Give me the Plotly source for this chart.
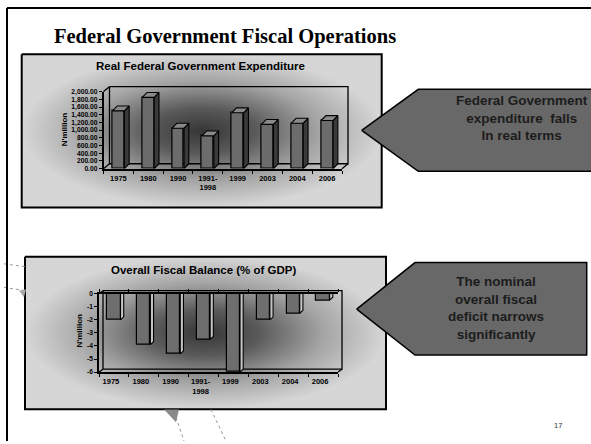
import plotly.graph_objects as go

# ---------------- data ----------------
categories = ["1975", "1980", "1990", "1991-1998", "1999", "2003", "2004", "2006"]
category_labels = ["1975", "1980", "1990", "1991-<br>1998", "1999", "2003", "2004", "2006"]

real_expenditure = [1500, 1850, 1050, 850, 1450, 1150, 1180, 1250]   # N'million
fiscal_balance = [-2.0, -3.9, -4.6, -3.5, -6.0, -2.0, -1.5, -0.5]     # % of GDP

expenditure_ticks = [0, 200, 400, 600, 800, 1000, 1200, 1400, 1600, 1800, 2000]
expenditure_tick_text = ["0.00", "200.00", "400.00", "600.00", "800.00", "1,000.00",
                         "1,200.00", "1,400.00", "1,600.00", "1,800.00", "2,000.00"]
balance_ticks = [0, -1, -2, -3, -4, -5, -6]
balance_tick_text = ["0", "-1", "-2", "-3", "-4", "-5", "-6"]

slide_title = "Federal Government Fiscal Operations"
top_title = "Real Federal Government Expenditure"
bottom_title = "Overall Fiscal Balance (% of GDP)"
y_title = "N'million"
callout_top = "Federal Government<br>expenditure  falls<br>In real terms"
callout_bottom = "The nominal<br>overall fiscal<br>deficit narrows<br>significantly"
page_number = "17"

# ---------------- page geometry (pixels) ----------------
W, H = 591, 444
SANS = "Liberation Sans, Arial, sans-serif"
SERIF = "Liberation Serif, Times New Roman, serif"

TOP = dict(left=103.5, right=342, ytop=89, ybot=167.3, depth=(6, 5),
           box=(21.7, 51, 381.7, 206.7), yrange=[0, 2000], label_shift=0)
BOT = dict(left=99, right=338, ytop=294.3, ybot=374, depth=(4, 3),
           box=(25, 256.7, 386, 411.7), yrange=[-6, 0], label_shift=-3)

pos = list(range(len(categories)))


def fx(p):
    return p / W


def fy(p):
    return 1 - p / H


fig = go.Figure()

# ---------- background panels (overlay axes in pixel units) ----------
box_scale = [[0, "#363636"], [0.3, "#5a5a5a"], [0.65, "#a4a4a4"], [1, "#d6d6d6"]]
for g in (TOP, BOT):
    x0, y0, x1, y1 = g["box"]
    fig.add_trace(go.Scatter(
        x=[x0, x1, x1, x0, x0], y=[y0, y0, y1, y1, y0], mode="lines",
        fill="toself", fillgradient=dict(type="radial", colorscale=box_scale),
        line=dict(color="black", width=2), hoverinfo="skip", showlegend=False,
        xaxis="x", yaxis="y"))

# back wall and side wall outlines of each 3-D plot box
for g in (TOP, BOT):
    L, R, T, B = g["left"], g["right"], g["ytop"], g["ybot"]
    dx, dy = g["depth"]
    xs = [L + dx, R + dx, R + dx, L + dx, L + dx, None,
          L, L + dx, None, L, L + dx, None, R, R + dx]
    ys = [T - dy, T - dy, B - dy, B - dy, T - dy, None,
          T, T - dy, None, B, B - dy, None, B, B - dy]
    fig.add_trace(go.Scatter(x=xs, y=ys, mode="lines",
                             line=dict(color="black", width=1.3),
                             hoverinfo="skip", showlegend=False, xaxis="x", yaxis="y"))

# faint leftover slide graphics
deco_lines = [((4, 264), (26, 267)), ((4, 288), (24, 291)),
              ((176, 420), (184, 444)), ((211, 412), (226, 444))]
for (a, b) in deco_lines:
    fig.add_trace(go.Scatter(x=[a[0], b[0]], y=[a[1], b[1]], mode="lines",
                             line=dict(color="#9a9a9a", width=1, dash="dot"),
                             hoverinfo="skip", showlegend=False, xaxis="x", yaxis="y"))
fig.add_trace(go.Scatter(x=[164, 179, 176, 164], y=[412, 412, 425, 412], mode="lines",
                         fill="toself", fillcolor="#8a8a8a", line=dict(width=0),
                         hoverinfo="skip", showlegend=False, xaxis="x", yaxis="y"))
fig.add_trace(go.Scatter(x=[19, 26, 24, 19], y=[291, 290, 298, 291], mode="lines",
                         fill="toself", fillcolor="#a8a8a8", line=dict(width=0),
                         hoverinfo="skip", showlegend=False, xaxis="x", yaxis="y"))

# callout arrows
arrows = [
    [(361.7, 128.3), (418.3, 86.7), (596, 86.7), (596, 170), (418.3, 170)],
    [(356.7, 310), (415, 262.7), (586.7, 262.7), (586.7, 356.7), (415, 356.7)],
]
for pts in arrows:
    pts = pts + [pts[0]]
    fig.add_trace(go.Scatter(x=[p[0] for p in pts], y=[p[1] for p in pts], mode="lines",
                             fill="toself", fillcolor="#686868",
                             line=dict(color="black", width=1.5),
                             hoverinfo="skip", showlegend=False, xaxis="x", yaxis="y"))


# ---------- 3-D style bars ----------
def add_bars(values, xa, ya, g, width, shift, front, side, top_face):
    n_px = (g["right"] - g["left"]) / len(values)
    y_px = (g["ybot"] - g["ytop"]) / (g["yrange"][1] - g["yrange"][0])
    ddx = g["depth"][0] / n_px * 0.8
    ddy = g["depth"][1] / y_px
    centers = [p + shift for p in pos]
    fig.add_trace(go.Bar(x=centers, y=values, width=width,
                         marker=dict(color=front, line=dict(color="black", width=1.2)),
                         hoverinfo="skip", showlegend=False, xaxis=xa, yaxis=ya))
    sx, sy, tx, ty = [], [], [], []
    for c, v in zip(centers, values):
        r = c + width / 2
        l = c - width / 2
        sx += [r, r + ddx, r + ddx, r, r, None]
        sy += [0, ddy, v + ddy, v, 0, None]
        if top_face:
            tx += [l, l + ddx, r + ddx, r, l, None]
            ty += [v, v + ddy, v + ddy, v, v, None]
    fig.add_trace(go.Scatter(x=sx, y=sy, mode="lines", fill="toself", fillcolor=side,
                             line=dict(color="black", width=1.1),
                             hoverinfo="skip", showlegend=False, xaxis=xa, yaxis=ya))
    if top_face:
        fig.add_trace(go.Scatter(x=tx, y=ty, mode="lines", fill="toself", fillcolor=top_face,
                                 line=dict(color="black", width=1.1),
                                 hoverinfo="skip", showlegend=False, xaxis=xa, yaxis=ya))


add_bars(real_expenditure, "x2", "y2", TOP, 0.40, 0.0, "#6c6c6c", "#3a3a3a", "#8a8a8a")
add_bars(fiscal_balance, "x3", "y3", BOT, 0.44, 0.0, "#6e6e6e", "#c4c4c4", None)

# ---------- axes ----------
hidden = dict(visible=False, showgrid=False, zeroline=False, fixedrange=True)
tick_font_x = dict(family=SANS, size=7.5, color="black", weight="bold")
tick_font_y = dict(family=SANS, size=6.7, color="black", weight="bold")
boundaries = [p - 0.5 for p in pos] + [len(pos) - 0.5]


def cat_axis(g, anchor, mirror):
    return dict(domain=[fx(g["left"]), fx(g["right"])], range=[-0.5, len(pos) - 0.5],
                anchor=anchor, tickmode="array", tickvals=pos, ticktext=category_labels,
                ticks="", tickfont=tick_font_x, ticklabelstandoff=1,
                ticklabelshift=g["label_shift"],
                showline=True, linecolor="black", linewidth=2, mirror=mirror,
                minor=dict(tickmode="array", tickvals=boundaries, ticks="outside",
                           ticklen=3, tickcolor="black", tickwidth=1),
                showgrid=False, zeroline=False, fixedrange=True)


def val_axis(g, anchor, ticks, labels):
    return dict(domain=[fy(g["ybot"]), fy(g["ytop"])], range=g["yrange"], anchor=anchor,
                tickmode="array", tickvals=ticks, ticktext=labels,
                ticks="outside", ticklen=3, tickwidth=1, tickcolor="black",
                tickfont=tick_font_y, showline=True, linecolor="black", linewidth=1.5,
                showgrid=False, zeroline=False, fixedrange=True)


annotations = [
    dict(x=51.7, y=33.3, xref="x", yref="y", text=slide_title, showarrow=False,
         xanchor="left", yanchor="middle",
         font=dict(family=SERIF, size=20.5, color="black", weight="bold")),
    dict(x=200, y=63.3, xref="x", yref="y", text=top_title, showarrow=False,
         font=dict(family=SANS, size=11.5, color="black", weight="bold")),
    dict(x=204, y=270, xref="x", yref="y", text=bottom_title, showarrow=False,
         font=dict(family=SANS, size=11.5, color="black", weight="bold")),
    dict(x=64.3, y=127, xref="x", yref="y", text=y_title, showarrow=False, textangle=-90,
         font=dict(family=SANS, size=8, color="black", weight="bold")),
    dict(x=79, y=331.7, xref="x", yref="y", text=y_title, showarrow=False, textangle=-90,
         font=dict(family=SANS, size=8, color="black", weight="bold")),
    dict(x=522, y=115.5, xref="x", yref="y", text=callout_top, showarrow=False,
         align="center", font=dict(family=SANS, size=13.5, color="#1c1c1c", weight="bold")),
    dict(x=496, y=308.5, xref="x", yref="y", text=callout_bottom, showarrow=False,
         align="center", font=dict(family=SANS, size=13.5, color="#1c1c1c", weight="bold")),
    dict(x=558, y=428, xref="x", yref="y", text=page_number, showarrow=False,
         font=dict(family=SANS, size=7.5, color="#333333")),
]

shapes = [
    dict(type="line", xref="x", yref="y", x0=7, y0=4, x1=600, y1=4,
         line=dict(color="black", width=2)),
    dict(type="line", xref="x", yref="y", x0=7, y0=4, x1=7, y1=450,
         line=dict(color="black", width=2)),
]

fig.update_layout(
    width=W, height=H, margin=dict(l=0, r=0, t=0, b=0),
    paper_bgcolor="white", plot_bgcolor="rgba(0,0,0,0)",
    showlegend=False, bargap=0,
    xaxis=dict(domain=[0, 1], range=[0, W], anchor="y", **hidden),
    yaxis=dict(domain=[0, 1], range=[H, 0], anchor="x", **hidden),
    xaxis2=cat_axis(TOP, "y2", False),
    yaxis2=val_axis(TOP, "x2", expenditure_ticks, expenditure_tick_text),
    xaxis3=cat_axis(BOT, "y3", "ticks"),
    yaxis3=val_axis(BOT, "x3", balance_ticks, balance_tick_text),
    annotations=annotations, shapes=shapes,
)

fig.write_html("out.html")
